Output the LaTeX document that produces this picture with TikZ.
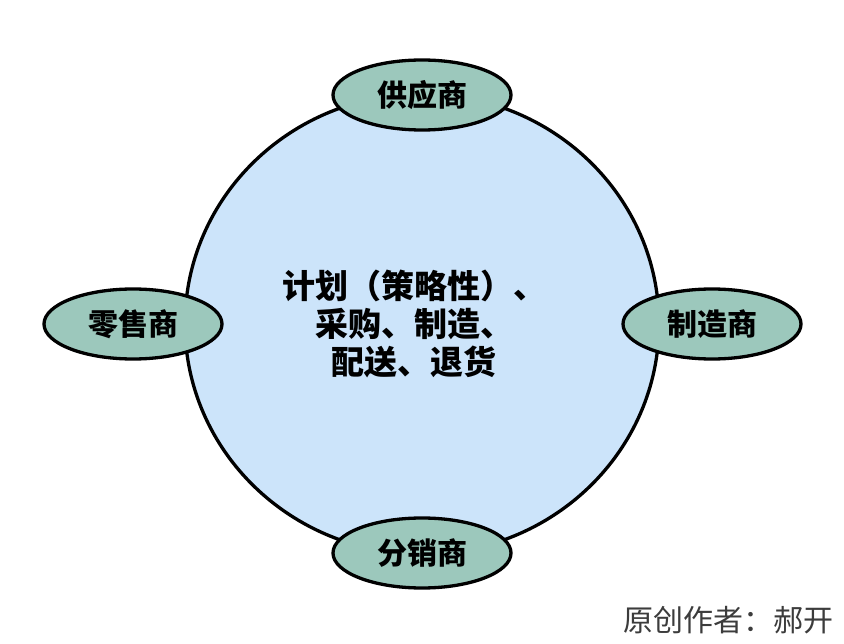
\documentclass[tikz,border=0pt]{standalone}
\usepackage{fontspec}
\newfontfamily\cjk{Noto Sans CJK SC}
\usepackage{xcolor}
\usepackage{tikz}
\usetikzlibrary{positioning,shapes.geometric}
\definecolor{hubblue}{HTML}{CCE4FA}
\definecolor{partgreen}{HTML}{9CC8BC}
\definecolor{notegray}{HTML}{3C3C3C}

\begin{document}
\begin{tikzpicture}[
  x=1pt, y=-1pt,
  hub/.style={draw,line width=3.3pt,ellipse,fill=hubblue,minimum width=474pt,minimum height=460pt,inner sep=0pt},
  part/.style={draw,line width=3.3pt,ellipse,fill=partgreen,minimum width=178pt,minimum height=70pt,inner sep=0pt,
    font=\cjk\bfseries\fontsize{30}{34}\selectfont}
]
\useasboundingbox (0,0) rectangle (844,644);
\node[hub] (core) at (422,324) {};
\node[align=center,font=\cjk\bfseries\fontsize{33}{38}\selectfont] (flow) at (414,324)
  {计划（策略性）、\\采购、制造、\\配送、退货};
\node[part] (sup) at (422,95) {供应商};
\node[part] (mfr) at (712,324) {制造商};
\node[part] (dist) at (422,553) {分销商};
\node[part] (ret) at (133,324) {零售商};
\node[anchor=east,text=notegray,font=\cjk\fontsize{30}{32}\selectfont,inner sep=0pt] (note) at (834,620) {原创作者：郝开};
\end{tikzpicture}
\end{document}
